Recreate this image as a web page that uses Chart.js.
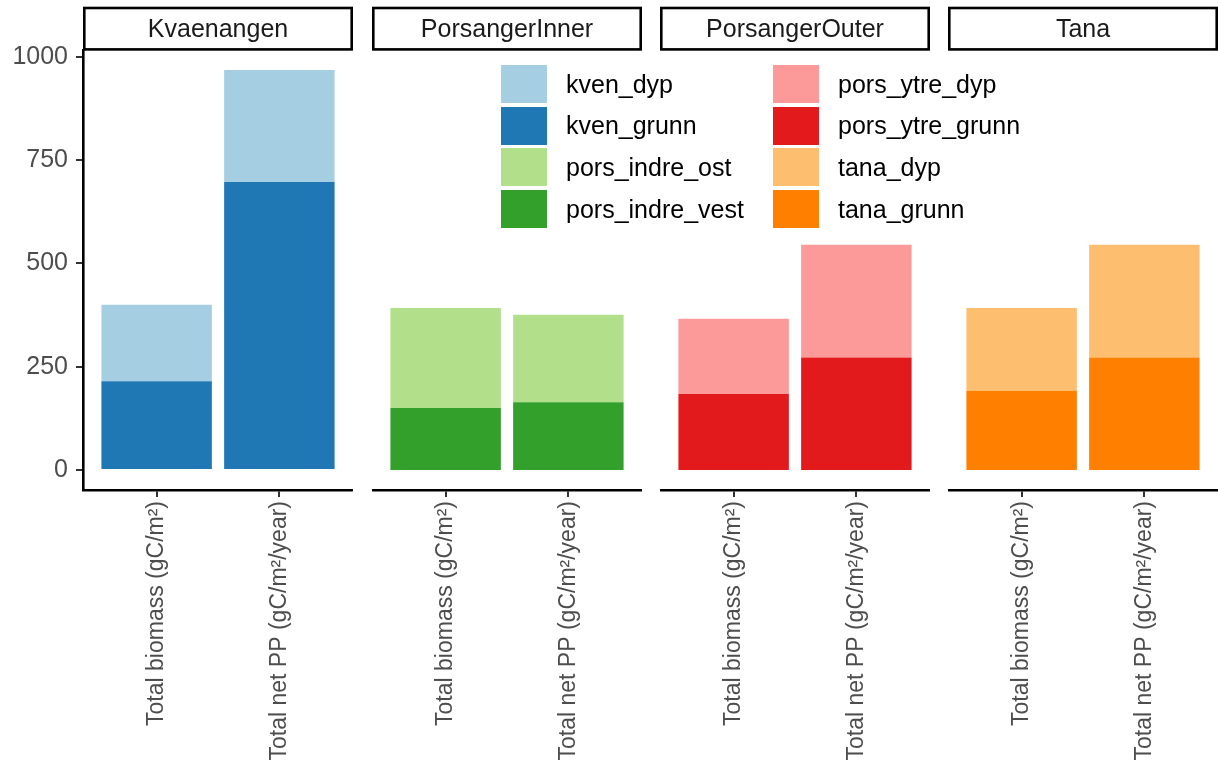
<!DOCTYPE html>
<html>
<head>
<meta charset="utf-8">
<script src="https://cdn.jsdelivr.net/npm/chart.js@4.4.1/dist/chart.umd.min.js"></script>
<style>
    body { margin: 0; background: #fff; }
    #wrap { position: relative; width: 1218px; height: 767px; font-family: "Liberation Sans", Arial, sans-serif; }
    #wrap canvas { position: absolute; top: 0; }
    #legend { position: absolute; left: 501px; top: 65px; }
</style>
</head>
<body>
<div id="wrap">
    <canvas id="panel0" width="353" height="767" style="left:0px"></canvas>
    <canvas id="panel1" width="270" height="767" style="left:372px"></canvas>
    <canvas id="panel2" width="270" height="767" style="left:660px"></canvas>
    <canvas id="panel3" width="270" height="767" style="left:948px"></canvas>
    <div id="legend"></div>
</div>
<script>
// facets and categories
const sites = ['Kvaenangen', 'PorsangerInner', 'PorsangerOuter', 'Tana'];
const measures = ['Total biomass (gC/m²)', 'Total net PP (gC/m²/year)'];
const yTicks = [0, 250, 500, 750, 1000];

// legend order and colours
const seriesNames = ['kven_dyp', 'kven_grunn', 'pors_indre_ost', 'pors_indre_vest',
                     'pors_ytre_dyp', 'pors_ytre_grunn', 'tana_dyp', 'tana_grunn'];
const seriesColors = ['#A6CEE3', '#1F78B4', '#B2DF8A', '#33A02C',
                      '#FB9A99', '#E31A1C', '#FDBF6F', '#FF7F00'];

// values per measure: [biomass, net PP]
const kvenGrunn = [215, 697];
const kvenDyp = [185, 271];
const porsIndreVest = [150, 164];
const porsIndreOst = [242, 212];
const porsYtreGrunn = [184, 272];
const porsYtreDyp = [182, 273];
const tanaGrunn = [191, 272];
const tanaDyp = [201, 273];

// bottom series first, then the one stacked on top
const panelSeries = [
    [['kven_grunn', kvenGrunn], ['kven_dyp', kvenDyp]],
    [['pors_indre_vest', porsIndreVest], ['pors_indre_ost', porsIndreOst]],
    [['pors_ytre_grunn', porsYtreGrunn], ['pors_ytre_dyp', porsYtreDyp]],
    [['tana_grunn', tanaGrunn], ['tana_dyp', tanaDyp]]
];

const fontFamily = '"Liberation Sans", Arial, sans-serif';
Chart.defaults.font.family = fontFamily;

// shared y range, ggplot style 5% expansion
let maxTotal = 0;
panelSeries.forEach(p => {
    p[0][1].forEach((v, k) => { maxTotal = Math.max(maxTotal, v + p[1][1][k]); });
});
const yMin = -0.05 * maxTotal;
const yMax = 1.05 * maxTotal;

const stripPlugin = {
    id: 'strip',
    afterDraw(chart, args, opts) {
        const { ctx, chartArea } = chart;
        ctx.save();
        ctx.lineWidth = 2.6;
        ctx.strokeStyle = '#000';
        ctx.strokeRect(chartArea.left + 1.3, 8, chartArea.right - chartArea.left - 2.6, 41.4);
        ctx.fillStyle = '#1a1a1a';
        ctx.font = '25px ' + fontFamily;
        ctx.textAlign = 'center';
        ctx.textBaseline = 'middle';
        ctx.fillText(opts.title, (chartArea.left + chartArea.right) / 2, 30);
        ctx.restore();
    }
};

function colorOf(name) {
    return seriesColors[seriesNames.indexOf(name)];
}

function renderPanel(i) {
    const canvas = document.getElementById('panel' + i);
    const first = i === 0;
    new Chart(canvas.getContext('2d'), {
        type: 'bar',
        data: {
            datasets: panelSeries[i].map(([name, values]) => ({
                label: name,
                data: values.map((v, k) => ({ x: k + 1, y: v })),
                backgroundColor: colorOf(name),
                borderWidth: 0,
                categoryPercentage: 0.9,
                barPercentage: 1
            }))
        },
        options: {
            responsive: false,
            animation: false,
            devicePixelRatio: 1,
            layout: { padding: { top: 50, left: 0, right: 0, bottom: 0 } },
            plugins: {
                legend: { display: false },
                tooltip: { enabled: false },
                strip: { title: sites[i] }
            },
            scales: {
                x: {
                    type: 'linear',
                    stacked: true,
                    offset: false,
                    min: 0.4,
                    max: measures.length + 0.6,
                    afterBuildTicks: s => { s.ticks = measures.map((m, k) => ({ value: k + 1 })); },
                    afterFit: s => { s.height = 277; },
                    ticks: {
                        callback: v => measures[v - 1],
                        minRotation: 90,
                        maxRotation: 90,
                        autoSkip: false,
                        font: { size: 23 },
                        color: '#4d4d4d',
                        padding: 4
                    },
                    grid: { offset: false, drawOnChartArea: false, tickLength: 7, lineWidth: 2, color: '#333' },
                    border: { color: '#000', width: 2.6 }
                },
                y: {
                    display: first,
                    stacked: true,
                    min: yMin,
                    max: yMax,
                    afterBuildTicks: s => { s.ticks = yTicks.map(v => ({ value: v })); },
                    afterFit: s => { if (first) s.width = 83; },
                    ticks: { callback: v => String(v), font: { size: 25 }, color: '#4d4d4d', padding: 8 },
                    grid: { drawOnChartArea: false, tickLength: 7, lineWidth: 2, color: '#333' },
                    border: { color: '#000', width: 2.6 }
                }
            }
        },
        plugins: [stripPlugin]
    });
}

function renderLegend() {
    const legendEl = document.getElementById('legend');
    seriesNames.forEach((name, k) => {
        const col = Math.floor(k / 4), row = k % 4;
        const item = document.createElement('div');
        item.style.cssText = 'position:absolute;left:' + (col * 272) + 'px;top:' + (row * 41.7) +
            'px;height:38px;display:flex;align-items:center;white-space:nowrap;';
        item.innerHTML = '<span style="width:46px;height:38px;display:inline-block;background:' + seriesColors[k] +
            '"></span><span style="margin-left:19px;font-size:25px;color:#000">' + name + '</span>';
        legendEl.appendChild(item);
    });
}

sites.forEach((s, i) => renderPanel(i));
renderLegend();
</script>
</body>
</html>
